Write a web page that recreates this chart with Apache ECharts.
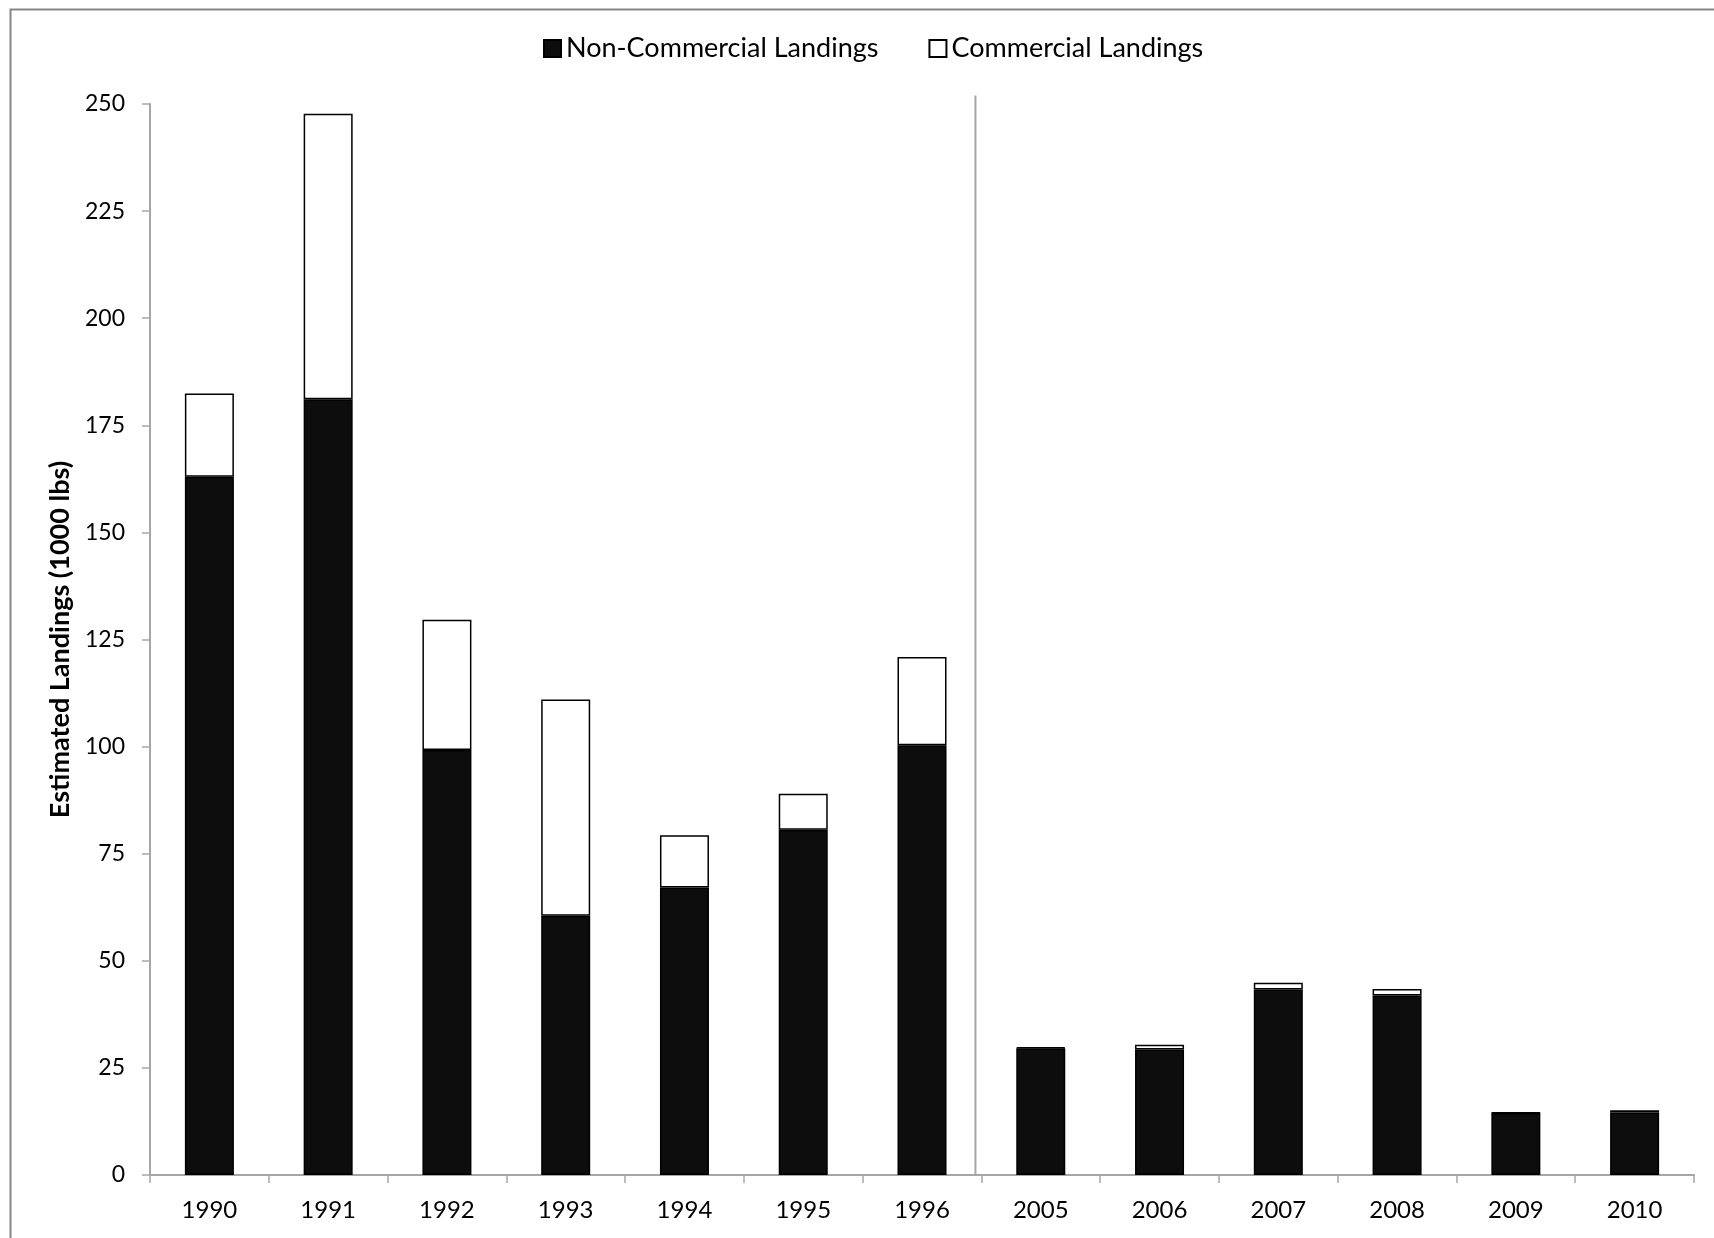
<!DOCTYPE html>
<html>
<head>
<meta charset="utf-8">
<script src="https://cdn.jsdelivr.net/npm/echarts@6/dist/echarts.min.js"></script>
<style>
html,body{margin:0;padding:0;background:#fff;}
#chart{width:1714px;height:1238px;}
</style>
</head>
<body>
<div id="chart"></div>
<script>
const years = ['1990','1991','1992','1993','1994','1995','1996','2005','2006','2007','2008','2009','2010'];
const nonCommercial = [163.0, 181.1, 99.2, 60.5, 67.1, 80.6, 100.3, 29.6, 29.3, 43.3, 41.9, 14.5, 14.6];
const commercial = [19.4, 66.6, 30.4, 50.5, 12.2, 8.4, 20.6, 0.2, 1.1, 1.6, 1.5, 0.1, 0.5];
const yTicks = [0, 25, 50, 75, 100, 125, 150, 175, 200, 225, 250];
const dividerLine = [[6.95, 0], [6.95, 252]]; // separator between 1996 and 2005 groups

const FONT = 'Lato, "Open Sans", sans-serif';
const chart = echarts.init(document.getElementById('chart'));
chart.setOption({
  backgroundColor: '#fff',
  animation: false,
  textStyle: { fontFamily: FONT, color: '#000' },
  graphic: [{
    type: 'rect', left: 8, top: 7,
    shape: { width: 1720, height: 1250 },
    style: { fill: 'none', stroke: '#868686', lineWidth: 2 }, silent: true
  }],
  legend: {
    left: 538, top: 30,
    itemWidth: 17, itemHeight: 17, itemGap: 50,
    icon: 'rect',
    textStyle: { fontFamily: FONT, fontSize: 27, color: '#000' },
    data: ['Non-Commercial Landings', 'Commercial Landings']
  },
  grid: { left: 150, right: 20, top: 104, bottom: 63, containLabel: false },
  xAxis: [{
    type: 'category', data: years,
    axisLine: { lineStyle: { color: '#a6a6a6', width: 2 } },
    axisTick: { show: true, length: 8, alignWithLabel: false, lineStyle: { color: '#a6a6a6', width: 1.5 } },
    axisLabel: { fontFamily: FONT, fontSize: 24, color: '#000', margin: 23 }
  }, {
    type: 'value', min: 0, max: 13, show: false
  }],
  yAxis: {
    type: 'value', min: yTicks[0], max: yTicks[yTicks.length - 1], interval: 25,
    name: 'Estimated Landings (1000 lbs)', nameLocation: 'middle', nameGap: 76,
    nameTextStyle: { fontFamily: FONT, fontSize: 27, fontWeight: 'bold', color: '#000' },
    axisLine: { show: true, lineStyle: { color: '#a6a6a6', width: 2 } },
    axisTick: { show: true, length: 8, lineStyle: { color: '#a6a6a6', width: 1.5 } },
    axisLabel: { fontFamily: FONT, fontSize: 23, color: '#000', margin: 25 },
    splitLine: { show: false }
  },
  series: [{
    name: 'Non-Commercial Landings', type: 'bar', stack: 'total',
    data: nonCommercial, barWidth: 49,
    itemStyle: { color: '#0d0d0d', borderColor: '#000', borderWidth: 1.5 }
  }, {
    name: 'Commercial Landings', type: 'bar', stack: 'total',
    data: commercial, barWidth: 49,
    itemStyle: { color: '#fff', borderColor: '#000', borderWidth: 1.5 }
  }, {
    name: 'divider', type: 'line', xAxisIndex: 1, yAxisIndex: 0,
    data: dividerLine, showSymbol: false, symbol: 'none', clip: false,
    silent: true, z: 1,
    lineStyle: { color: '#a6a6a6', width: 2 }
  }]
});
</script>
</body>
</html>
